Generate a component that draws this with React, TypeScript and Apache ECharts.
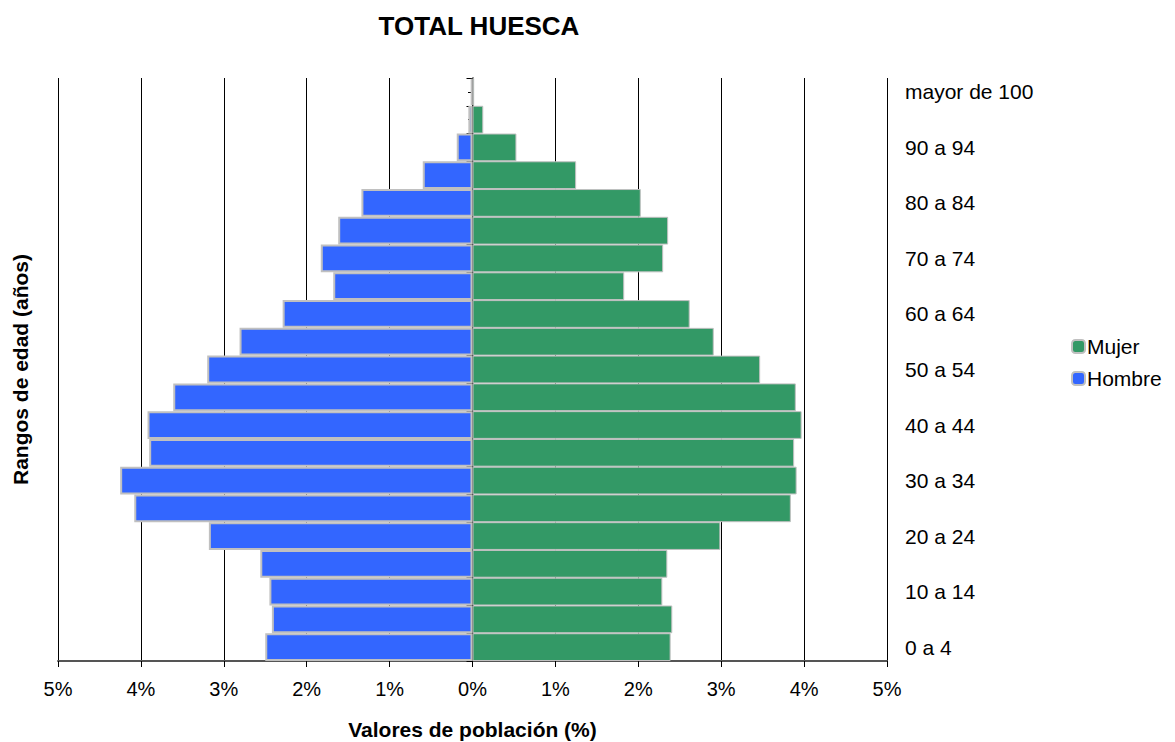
import React, { useEffect, useRef } from "react";
import * as echarts from "echarts";

const categories = [
  "0 a 4", "5 a 9", "10 a 14", "15 a 19", "20 a 24", "25 a 29", "30 a 34",
  "35 a 39", "40 a 44", "45 a 49", "50 a 54", "55 a 59", "60 a 64", "65 a 69",
  "70 a 74", "75 a 79", "80 a 84", "85 a 89", "90 a 94", "95 a 99", "mayor de 100",
];

const hombre = [
  2.50, 2.42, 2.45, 2.56, 3.18, 4.08, 4.25, 3.90, 3.92, 3.61, 3.20,
  2.81, 2.29, 1.68, 1.83, 1.62, 1.34, 0.60, 0.19, 0.05, 0.02,
];

const mujer = [
  2.39, 2.41, 2.29, 2.35, 2.99, 3.84, 3.91, 3.88, 3.97, 3.90, 3.47,
  2.91, 2.62, 1.83, 2.30, 2.36, 2.03, 1.25, 0.53, 0.13, 0.02,
];

const FONT = "Liberation Sans, Arial, sans-serif";

export default function App() {
  const ref = useRef<HTMLDivElement>(null);
  useEffect(() => {
    if (!ref.current) return;
    const chart = echarts.init(ref.current, null, { renderer: "svg" });
    chart.setOption({
      animation: false,
      backgroundColor: "#ffffff",
      textStyle: { fontFamily: FONT },
      title: {
        text: "TOTAL HUESCA",
        left: 474,
        top: 8,
        textAlign: "center",
        textStyle: { fontFamily: FONT, fontSize: 26, fontWeight: "bold", color: "#000" },
      },
      legend: {
        data: ["Mujer", "Hombre"],
        orient: "vertical",
        left: 1066,
        top: 331,
        itemWidth: 13,
        itemHeight: 13,
        itemGap: 11,
        textStyle: { fontFamily: FONT, fontSize: 21, color: "#000", padding: [0, 0, 0, -3] },
      },
      grid: { left: 58, right: 288, top: 78, bottom: 81, outerBoundsMode: "none", containLabel: false },
      xAxis: {
        type: "value",
        min: -5,
        max: 5,
        interval: 1,
        name: "Valores de población (%)",
        nameLocation: "middle",
        nameGap: 58,
        nameTextStyle: { fontFamily: FONT, fontSize: 21, fontWeight: "bold", color: "#000" },
        axisLine: { show: true, onZero: false, lineStyle: { color: "#555", width: 2 } },
        axisTick: { show: true, length: 6, lineStyle: { color: "#000" } },
        axisLabel: {
          fontFamily: FONT,
          fontSize: 20,
          color: "#000",
          margin: 18,
          formatter: (v: number) => Math.abs(v) + "%",
        },
        splitLine: { show: true, lineStyle: { color: "#000", width: 1 } },
      },
      yAxis: [
        {
          type: "category",
          data: categories,
          position: "left",
          name: "Rangos de edad (años)",
          nameLocation: "middle",
          nameRotate: 90,
          nameGap: 27,
          nameTextStyle: { fontFamily: FONT, fontSize: 21, fontWeight: "bold", color: "#000" },
          axisLine: { show: true, onZero: true, lineStyle: { color: "#000", width: 1.5 } },
          axisTick: { show: true, length: 6, interval: 0, lineStyle: { color: "#000" } },
          axisLabel: { show: false },
          splitLine: { show: false },
        },
        {
          type: "category",
          data: categories,
          position: "right",
          axisLine: { show: false, onZero: false },
          axisTick: { show: false },
          axisLabel: {
            interval: 1,
            fontFamily: FONT,
            fontSize: 21,
            color: "#000",
            margin: 18,
          },
          splitLine: { show: false },
        },
        {
          type: "category",
          data: categories,
          position: "left",
          offset: -415,
          axisLine: { show: false, onZero: false },
          axisTick: { show: true, length: 5, interval: 0, alignWithLabel: true, lineStyle: { color: "#000" } },
          axisLabel: { show: false },
          splitLine: { show: false },
        },
      ],
      series: [
        {
          name: "Mujer",
          type: "bar",
          stack: "total",
          yAxisIndex: 0,
          barCategoryGap: 0,
          data: mujer,
          itemStyle: { color: "#339966", borderColor: "#c0c0c0", borderWidth: 1 },
        },
        {
          name: "Hombre",
          type: "bar",
          stack: "total",
          yAxisIndex: 0,
          barCategoryGap: 0,
          data: hombre.map((v) => -v),
          itemStyle: { color: "#3366ff", borderColor: "#c0c0c0", borderWidth: 2 },
        },
      ],
    });
    return () => chart.dispose();
  }, []);
  return <div ref={ref} style={{ width: 1175, height: 742, position: "absolute", left: 0, top: 0 }} />;
}
